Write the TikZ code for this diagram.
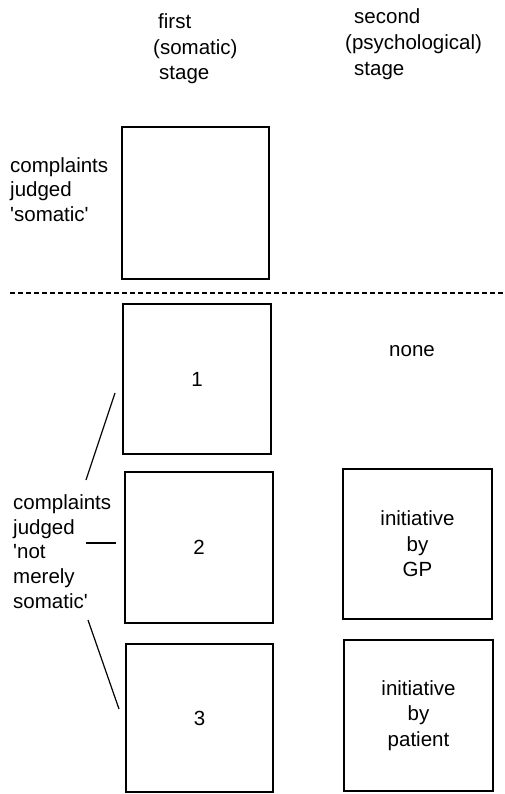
\documentclass[tikz,border=0pt]{standalone}
\usepackage{fontspec}
\setmainfont{Liberation Sans}
\begin{document}
\begin{tikzpicture}[x=1pt,y=-1pt,
  txt/.style={inner sep=0pt, anchor=base west, font=\fontsize{20.5}{25.5}\selectfont},
  stagebox/.style={draw, line width=1.5pt, inner sep=0pt, align=center, font=\fontsize{20.5}{25.5}\selectfont},
  lead/.style={line width=1.2pt},
  sep/.style={line width=1.4pt, dash pattern=on 5pt off 3pt}]
\useasboundingbox (0,0) rectangle (505,794);
\fill[white] (0,0) rectangle (505,794);

% column headings
\node[txt] (h1a) at (158,29) {first};
\node[txt] (h1b) at (153,55) {(somatic)};
\node[txt] (h1c) at (159,80) {stage};
\node[txt] (h2a) at (354,24) {second};
\node[txt] (h2b) at (345,50) {(psychological)};
\node[txt] (h2c) at (354,76) {stage};

% left labels
\node[txt] (l1a) at (10,173) {complaints};
\node[txt] (l1b) at (10,197) {judged};
\node[txt] (l1c) at (10,222) {\textquotesingle somatic\textquotesingle};
\node[txt] (l2a) at (13,509) {complaints};
\node[txt] (l2b) at (13,534) {judged};
\node[txt] (l2c) at (13,558) {\textquotesingle not};
\node[txt] (l2d) at (13,583) {merely};
\node[txt] (l2e) at (13,608) {somatic\textquotesingle};

% boxes
\node[stagebox, minimum width=147pt, minimum height=152pt] (top) at (195.5,203) {};
\node[stagebox, minimum width=148pt, minimum height=150pt] (b1) at (197,379) {1};
\node[stagebox, minimum width=148pt, minimum height=151pt] (b2) at (199,547.5) {2};
\node[stagebox, minimum width=147pt, minimum height=148pt] (b3) at (199.5,718) {3};
\node[stagebox, minimum width=149pt, minimum height=150pt] (gp) at (417.5,544) {initiative\\by\\GP};
\node[stagebox, minimum width=149pt, minimum height=151pt] (pt) at (418.5,715.5) {initiative\\by\\patient};
\node[inner sep=0pt, font=\fontsize{20.5}{25.5}\selectfont] (none) at (412,351) {none};

% dashed separator
\coordinate (dl) at (10,293);
\coordinate (dr) at (505,293);
\draw[sep] (dl) -- (dr);

% leader lines
\coordinate (a1) at (86,480);
\coordinate (a2) at (115,393);
\coordinate (c1) at (86,543);
\coordinate (c2) at (116,543);
\coordinate (e1) at (88,620);
\coordinate (e2) at (119,709);
\draw[lead] (a1) -- (a2);
\draw[lead] (c1) -- (c2);
\draw[lead] (e1) -- (e2);
\end{tikzpicture}
\end{document}
